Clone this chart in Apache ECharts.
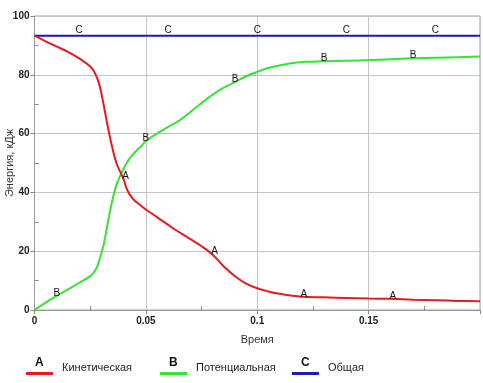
<!DOCTYPE html>
<html>
<head>
<meta charset="utf-8">
<script src="https://cdn.jsdelivr.net/npm/echarts@6/dist/echarts.min.js"></script>
<style>
html,body{margin:0;padding:0;background:#fff;}
#chart{width:483px;height:383px;}
</style>
</head>
<body>
<div id="chart"></div>
<script>
// ---- data ----
var seriesNames = ['Кинетическая', 'Потенциальная', 'Общая'];
var seriesLetters = ['A', 'B', 'C'];
var xAxisTitle = 'Время';
var yAxisTitle = 'Энергия, кДж';

var timeKin = [0,0.005,0.01,0.015,0.02,0.025,0.027,0.029,0.031,0.033,0.035,0.037,0.04,0.0415,0.044,0.0475,0.05,0.055,0.062,0.07,0.075,0.08,0.085,0.09,0.095,0.1,0.105,0.11,0.115,0.12,0.13,0.14,0.15,0.16,0.17,0.18,0.19,0.2];
var kinetic = [93.3,91.4,89.6,87.8,85.6,82.8,80.8,77,70,62,55,49.5,44.5,41,38,35.6,34.2,31.6,27.9,24.1,21.7,18.8,14.8,11.5,9.0,7.4,6.3,5.5,4.9,4.5,4.3,4.1,3.9,3.8,3.5,3.3,3.1,3];

var timePot = [0,0.005,0.01,0.018,0.024,0.026,0.028,0.0295,0.031,0.033,0.035,0.037,0.039,0.041,0.043,0.0455,0.048,0.05,0.055,0.06,0.065,0.074,0.083,0.09,0.095,0.1,0.105,0.11,0.116,0.122,0.13,0.14,0.15,0.16,0.17,0.18,0.19,0.2];
var potential = [0,2.5,4.8,8.3,11,12.2,14.5,18,22,30,37.5,43,46.5,49.5,51.8,54,55.8,57.5,60,62.3,64.4,69.8,74.8,77.5,79.5,81,82.3,83.2,84,84.4,84.6,84.8,85,85.3,85.6,85.8,86,86.2];

var timeTot = [0,0.02,0.06,0.1,0.14,0.18,0.2];
var total = [93.3,93.3,93.3,93.3,93.3,93.3,93.3];

var labelTimesA = [0.04,0.08,0.12,0.16];
var labelTimesB = [0.01,0.05,0.09,0.13,0.17];
var labelTimesC = [0.02,0.06,0.1,0.14,0.18];

var yTicks = [0,20,40,60,80,100];
var xTicks = [0,0.05,0.1,0.15];

// ---- build ----
var colors = ['#e41b22', '#36e336', '#1c1cb4'];
var labelOffsets = [[2,-3],[0,-3],[0,-5]];

function build(times, vals, labelTimes, idx) {
  return times.map(function (t, i) {
    var show = labelTimes.indexOf(t) >= 0;
    return {
      value: [t, vals[i]],
      label: {show: show, formatter: seriesLetters[idx], position: 'inside', offset: labelOffsets[idx],
        color: '#111', fontSize: 10, fontFamily: 'Liberation Sans, Arial, sans-serif'}
    };
  });
}

var dataSets = [
  build(timeKin, kinetic, labelTimesA, 0),
  build(timePot, potential, labelTimesB, 1),
  build(timeTot, total, labelTimesC, 2)
];

var chart = echarts.init(document.getElementById('chart'), null, {renderer: 'canvas'});

var legendLefts = [26, 160, 292];
var legends = seriesNames.map(function (n, i) {
  return {
    data: [{name: n, icon: 'rect', itemStyle: {color: colors[i], opacity: 1}}],
    left: legendLefts[i], top: 362, padding: 0,
    itemWidth: 27, itemHeight: 3, selectedMode: false,
    formatter: '{t|{name}}',
    textStyle: {fontSize: 11, color: '#222', fontFamily: 'Liberation Sans, Arial, sans-serif',
      rich: {t: {fontSize: 11, color: '#222', fontFamily: 'Liberation Sans, Arial, sans-serif', padding: [0,0,12,4]}}}
  };
});

var letterGraphics = seriesLetters.map(function (l, i) {
  return {
    type: 'text', left: legendLefts[i] + 9, top: 357,
    style: {text: l, fontSize: 12, fontWeight: 'bold', fill: '#111', fontFamily: 'Liberation Sans, Arial, sans-serif'}
  };
});

var option = {
  animation: false,
  backgroundColor: '#fff',
  color: colors,
  grid: {left: 34.5, right: 3, top: 16, bottom: 73, show: true, borderColor: '#a0a0a0', borderWidth: 1,
    containLabel: false, outerBoundsMode: 'none'},
  legend: legends,
  graphic: letterGraphics,
  xAxis: {
    type: 'value', min: 0, max: 0.2, interval: 0.05,
    name: xAxisTitle, nameLocation: 'middle', nameGap: 24, nameMoveOverlap: false,
    nameTextStyle: {fontSize: 11, color: '#333', fontFamily: 'Liberation Sans, Arial, sans-serif'},
    axisLine: {show: true, lineStyle: {color: '#999'}},
    axisTick: {show: true, inside: false, length: 4, lineStyle: {color: '#888'}},
    minorTick: {show: true, splitNumber: 2, length: -4, lineStyle: {color: '#888'}},
    splitLine: {show: true, lineStyle: {color: '#c4c4c4', width: 1}},
    axisLabel: {
      showMaxLabel: false, margin: 6, fontSize: 10, fontWeight: 'bold', color: '#222',
      fontFamily: 'Liberation Sans, Arial, sans-serif',
      formatter: function (v) { var r = Math.round(v*1000)/1000; return xTicks.indexOf(r) >= 0 ? String(r) : ''; }
    }
  },
  yAxis: {
    type: 'value', min: 0, max: 100, interval: 20,
    name: yAxisTitle, nameLocation: 'middle', nameGap: 19, nameRotate: 90, nameMoveOverlap: false,
    nameTextStyle: {fontSize: 11, color: '#333', fontFamily: 'Liberation Sans, Arial, sans-serif'},
    axisLine: {show: true, lineStyle: {color: '#999'}},
    axisTick: {show: true, inside: false, length: 4, lineStyle: {color: '#888'}},
    minorTick: {show: true, splitNumber: 2, length: -4, lineStyle: {color: '#888'}},
    splitLine: {show: true, lineStyle: {color: '#c4c4c4', width: 1}},
    axisLabel: {
      margin: 5, fontSize: 10, fontWeight: 'bold', color: '#222',
      fontFamily: 'Liberation Sans, Arial, sans-serif',
      formatter: function (v) { return yTicks.indexOf(v) >= 0 ? String(v) : ''; }
    }
  },
  series: seriesNames.map(function (n, i) {
    return {
      name: n, type: 'line', data: dataSets[i],
      smooth: 0.4, showSymbol: true, showAllSymbol: true,
      symbol: 'circle', symbolSize: 0.1,
      itemStyle: {color: 'rgba(0,0,0,0)'},
      lineStyle: {color: colors[i], width: 2},
      z: 3 - i,
      emphasis: {disabled: true}
    };
  })
};
chart.setOption(option);
</script>
</body>
</html>
